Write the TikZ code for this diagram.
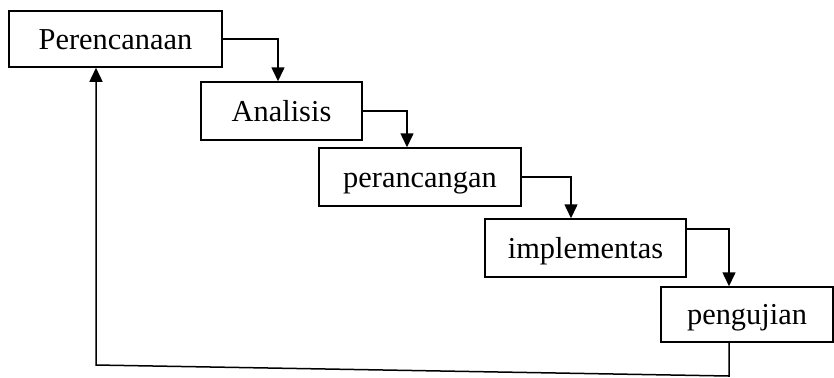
\documentclass[tikz,border=0pt]{standalone}
\usepackage{fontspec}
\setmainfont{Liberation Serif}
\usetikzlibrary{arrows.meta}

\begin{document}
\begin{tikzpicture}[x=0.5pt,y=-0.5pt,
    tahap/.style={draw, line width=0.75pt, inner sep=0pt, text height=10pt, text depth=0pt, font=\fontsize{15.2}{18}\selectfont},
    alur/.style={-{Triangle[length=7pt,width=6.5pt]}, line width=0.75pt}]
    \useasboundingbox (0,0) rectangle (834,377);
    \node[tahap, minimum width=106.5pt, minimum height=28pt](n1) at (115.5,39){Perencanaan};
    \node[tahap, minimum width=80.5pt, minimum height=29pt](n2) at (281.5,111){Analisis};
    \node[tahap, minimum width=101pt, minimum height=29pt](n3) at (420,177){perancangan};
    \node[tahap, minimum width=100.5pt, minimum height=29pt](n4) at (585.5,248){implementas};
    \node[tahap, minimum width=86pt, minimum height=27.5pt](n5) at (747,314.5){pengujian};

    \draw[alur](n1.east)-|([xshift=-1.75pt]n2.north);
    \draw[alur](n2.east)-|([xshift=-6.5pt]n3.north);
    \draw[alur](n3.east)-|([xshift=-7.25pt]n4.north);
    \draw[alur]([yshift=9.5pt]n4.east)-|([xshift=-9pt]n5.north);

    \coordinate(b1) at (729,376);
    \coordinate(b2) at (96,365);
    \draw[alur]([xshift=-9pt]n5.south)--(b1)--(b2)--(b2|-n1.south);
\end{tikzpicture}
\end{document}
